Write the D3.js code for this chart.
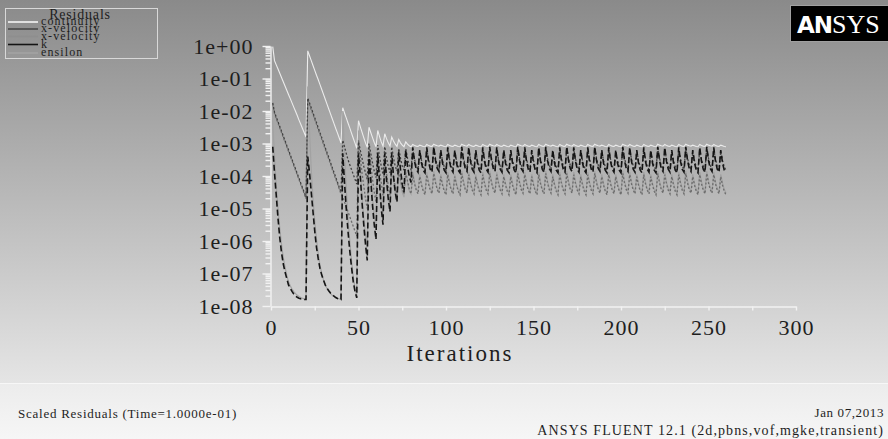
<!DOCTYPE html>
<html>
<head>
<meta charset="utf-8">
<script src="https://cdn.jsdelivr.net/npm/d3@7"></script>
<style>
  body { margin: 0; background: #fff; }
  svg { display: block; font-family: 'Liberation Serif', 'Times New Roman', serif; }
</style>
</head>
<body>
<div id="chart"></div>
<script>
// scaled residuals as log10 values, one per iteration (1..260)
let continuity = [
  -0.02,-0.45,-0.58,-0.71,-0.84,-0.97,-1.10,-1.23,-1.36,-1.49,-1.62,-1.75,-1.88,-2.01,-2.14,-2.28,-2.41,-2.54,-2.67,-2.80,
  -0.15,-0.30,-0.45,-0.60,-0.75,-0.90,-1.04,-1.19,-1.34,-1.49,-1.64,-1.79,-1.94,-2.09,-2.24,-2.39,-2.54,-2.68,-2.83,-2.98,
  -1.90,-2.06,-2.21,-2.37,-2.52,-2.68,-2.84,-2.99,-3.15,
  -2.30,-2.48,-2.65,-2.82,-2.98,-3.12,
  -2.50,-2.66,-2.82,-2.97,-3.10,
  -2.60,-2.78,-2.95,-3.08, -2.70,-2.85,-2.98,-3.08, -2.80,-2.92,-3.02,-3.09, -2.88,-2.98,-3.05,-3.10, -2.95,-3.02,-3.07,-3.10,
  -3.03,-3.06,-3.08,-3.09,-3.05,-3.07,-3.09,-3.10,-3.03,-3.06,-3.08,-3.09,-3.02,-3.05,-3.07,-3.08,-3.05,-3.07,-3.09,-3.10,
  -3.03,-3.06,-3.08,-3.09,-3.05,-3.07,-3.09,-3.10,-3.02,-3.05,-3.07,-3.08,-3.03,-3.06,-3.08,-3.09,-3.05,-3.07,-3.09,-3.10,
  -3.03,-3.06,-3.08,-3.09,-3.02,-3.05,-3.07,-3.08,-3.03,-3.06,-3.08,-3.09,-3.05,-3.07,-3.09,-3.10,-3.05,-3.07,-3.09,-3.10,
  -3.02,-3.05,-3.07,-3.08,-3.03,-3.06,-3.08,-3.09,-3.05,-3.07,-3.09,-3.10,-3.03,-3.06,-3.08,-3.09,-3.02,-3.05,-3.07,-3.08,
  -3.05,-3.07,-3.09,-3.10,-3.03,-3.06,-3.08,-3.09,-3.02,-3.05,-3.07,-3.08,-3.03,-3.06,-3.08,-3.09,-3.05,-3.07,-3.09,-3.10,
  -3.03,-3.06,-3.08,-3.09,-3.02,-3.05,-3.07,-3.08,-3.05,-3.07,-3.09,-3.10,-3.03,-3.06,-3.08,-3.09,-3.05,-3.07,-3.09,-3.10,
  -3.02,-3.05,-3.07,-3.08,-3.03,-3.06,-3.08,-3.09,-3.05,-3.07,-3.09,-3.10,-3.03,-3.06,-3.08,-3.09,-3.05,-3.07,-3.09,-3.10,
  -3.02,-3.05,-3.07,-3.08,-3.03,-3.06,-3.08,-3.09,-3.05,-3.07,-3.09,-3.10,-3.03,-3.06,-3.08,-3.09,-3.02,-3.05,-3.07,-3.08,
  -3.05,-3.07,-3.09,-3.10,-3.03,-3.06,-3.08,-3.09,-3.02,-3.05,-3.07,-3.08,-3.03,-3.06,-3.08,-3.09,-3.05,-3.07,-3.09,-3.10
]

let xVelocity = [
  -1.75,-2.04,-2.19,-2.33,-2.48,-2.62,-2.77,-2.91,-3.06,-3.20,-3.35,-3.49,-3.64,-3.78,-3.93,-4.07,-4.22,-4.36,-4.51,-4.65,
  -1.60,-1.75,-1.91,-2.06,-2.21,-2.36,-2.52,-2.67,-2.82,-2.97,-3.13,-3.28,-3.43,-3.58,-3.74,-3.89,-4.04,-4.19,-4.35,-4.50,
  -2.90,-3.10,-3.30,-3.50,-3.65,-3.80,-3.95,-4.10,-4.25,
  -2.95,-3.20,-3.45,-3.70,-3.90,-4.10,
  -3.00,-3.30,-3.60,-3.85,-4.05,
  -3.05,-3.40,-3.70,-3.95, -3.10,-3.45,-3.70,-3.90, -3.10,-3.45,-3.70,-3.85, -3.15,-3.45,-3.70,-3.82, -3.15,-3.45,-3.68,-3.80,
  -3.18,-3.48,-3.69,-3.80,-3.25,-3.52,-3.72,-3.82,-3.18,-3.48,-3.69,-3.80,-3.14,-3.45,-3.67,-3.79,-3.25,-3.52,-3.72,-3.82,
  -3.18,-3.48,-3.69,-3.80,-3.25,-3.52,-3.72,-3.82,-3.14,-3.45,-3.67,-3.79,-3.18,-3.48,-3.69,-3.80,-3.25,-3.52,-3.72,-3.82,
  -3.18,-3.48,-3.69,-3.80,-3.14,-3.45,-3.67,-3.79,-3.18,-3.48,-3.69,-3.80,-3.25,-3.52,-3.72,-3.82,-3.25,-3.52,-3.72,-3.82,
  -3.14,-3.45,-3.67,-3.79,-3.18,-3.48,-3.69,-3.80,-3.25,-3.52,-3.72,-3.82,-3.18,-3.48,-3.69,-3.80,-3.14,-3.45,-3.67,-3.79,
  -3.25,-3.52,-3.72,-3.82,-3.18,-3.48,-3.69,-3.80,-3.14,-3.45,-3.67,-3.79,-3.18,-3.48,-3.69,-3.80,-3.25,-3.52,-3.72,-3.82,
  -3.18,-3.48,-3.69,-3.80,-3.14,-3.45,-3.67,-3.79,-3.25,-3.52,-3.72,-3.82,-3.18,-3.48,-3.69,-3.80,-3.25,-3.52,-3.72,-3.82,
  -3.14,-3.45,-3.67,-3.79,-3.18,-3.48,-3.69,-3.80,-3.25,-3.52,-3.72,-3.82,-3.18,-3.48,-3.69,-3.80,-3.25,-3.52,-3.72,-3.82,
  -3.14,-3.45,-3.67,-3.79,-3.18,-3.48,-3.69,-3.80,-3.25,-3.52,-3.72,-3.82,-3.18,-3.48,-3.69,-3.80,-3.14,-3.45,-3.67,-3.79,
  -3.25,-3.52,-3.72,-3.82,-3.18,-3.48,-3.69,-3.80,-3.14,-3.45,-3.67,-3.79,-3.18,-3.48,-3.69,-3.80,-3.25,-3.52,-3.72,-3.82
]

let yVelocity = [
  -1.80,-2.08,-2.23,-2.37,-2.52,-2.66,-2.81,-2.95,-3.10,-3.24,-3.39,-3.53,-3.68,-3.82,-3.97,-4.11,-4.26,-4.40,-4.55,-4.70,
  -1.65,-1.80,-1.96,-2.11,-2.26,-2.41,-2.57,-2.72,-2.87,-3.02,-3.18,-3.33,-3.48,-3.63,-3.79,-3.94,-4.09,-4.24,-4.40,-4.55,
  -4.65,-4.80,-4.95,-5.10,-5.25,-5.40,-5.55,-5.70,-5.85,
  -2.90,-3.40,-3.90,-4.30,-4.70,-5.00,
  -3.10,-3.60,-4.10,-4.50,-4.80,
  -3.30,-3.80,-4.20,-4.60, -3.50,-3.90,-4.30,-4.60, -3.70,-4.00,-4.35,-4.60, -3.80,-4.10,-4.40,-4.55, -3.90,-4.15,-4.40,-4.55,
  -3.96,-4.24,-4.44,-4.55,-4.02,-4.28,-4.47,-4.58,-3.96,-4.24,-4.44,-4.55,-3.92,-4.21,-4.42,-4.53,-4.02,-4.28,-4.47,-4.58,
  -3.96,-4.24,-4.44,-4.55,-4.02,-4.28,-4.47,-4.58,-3.92,-4.21,-4.42,-4.53,-3.96,-4.24,-4.44,-4.55,-4.02,-4.28,-4.47,-4.58,
  -3.96,-4.24,-4.44,-4.55,-3.92,-4.21,-4.42,-4.53,-3.96,-4.24,-4.44,-4.55,-4.02,-4.28,-4.47,-4.58,-4.02,-4.28,-4.47,-4.58,
  -3.92,-4.21,-4.42,-4.53,-3.96,-4.24,-4.44,-4.55,-4.02,-4.28,-4.47,-4.58,-3.96,-4.24,-4.44,-4.55,-3.92,-4.21,-4.42,-4.53,
  -4.02,-4.28,-4.47,-4.58,-3.96,-4.24,-4.44,-4.55,-3.92,-4.21,-4.42,-4.53,-3.96,-4.24,-4.44,-4.55,-4.02,-4.28,-4.47,-4.58,
  -3.96,-4.24,-4.44,-4.55,-3.92,-4.21,-4.42,-4.53,-4.02,-4.28,-4.47,-4.58,-3.96,-4.24,-4.44,-4.55,-4.02,-4.28,-4.47,-4.58,
  -3.92,-4.21,-4.42,-4.53,-3.96,-4.24,-4.44,-4.55,-4.02,-4.28,-4.47,-4.58,-3.96,-4.24,-4.44,-4.55,-4.02,-4.28,-4.47,-4.58,
  -3.92,-4.21,-4.42,-4.53,-3.96,-4.24,-4.44,-4.55,-4.02,-4.28,-4.47,-4.58,-3.96,-4.24,-4.44,-4.55,-3.92,-4.21,-4.42,-4.53,
  -4.02,-4.28,-4.47,-4.58,-3.96,-4.24,-4.44,-4.55,-3.92,-4.21,-4.42,-4.53,-3.96,-4.24,-4.44,-4.55,-4.02,-4.28,-4.47,-4.58
]

let kResidual = [
  -3.10,-3.90,-4.60,-5.30,-5.90,-6.35,-6.70,-6.95,-7.15,-7.35,-7.45,-7.55,-7.63,-7.69,-7.73,-7.76,-7.78,-7.79,-7.80,-7.80,
  -3.40,-3.90,-4.50,-5.10,-5.70,-6.20,-6.55,-6.85,-7.05,-7.20,-7.35,-7.45,-7.53,-7.60,-7.65,-7.70,-7.74,-7.77,-7.79,-7.80,
  -3.30,-4.20,-5.00,-5.70,-6.30,-6.80,-7.25,-7.55,-7.75,
  -3.30,-4.00,-4.80,-5.50,-6.10,-6.60,
  -3.30,-4.10,-4.90,-5.50,-5.95,
  -3.30,-4.20,-5.00,-5.50, -3.30,-4.10,-4.70,-5.10, -3.30,-4.00,-4.50,-4.80, -3.25,-3.80,-4.25,-4.50, -3.20,-3.70,-4.00,-4.20,
  -3.12,-3.55,-3.79,-3.88,-3.20,-3.60,-3.82,-3.90,-3.12,-3.55,-3.79,-3.88,-3.10,-3.52,-3.77,-3.86,-3.20,-3.60,-3.82,-3.90,
  -3.12,-3.55,-3.79,-3.88,-3.20,-3.60,-3.82,-3.90,-3.10,-3.52,-3.77,-3.86,-3.12,-3.55,-3.79,-3.88,-3.20,-3.60,-3.82,-3.90,
  -3.12,-3.55,-3.79,-3.88,-3.10,-3.52,-3.77,-3.86,-3.12,-3.55,-3.79,-3.88,-3.20,-3.60,-3.82,-3.90,-3.20,-3.60,-3.82,-3.90,
  -3.10,-3.52,-3.77,-3.86,-3.12,-3.55,-3.79,-3.88,-3.20,-3.60,-3.82,-3.90,-3.12,-3.55,-3.79,-3.88,-3.10,-3.52,-3.77,-3.86,
  -3.20,-3.60,-3.82,-3.90,-3.12,-3.55,-3.79,-3.88,-3.10,-3.52,-3.77,-3.86,-3.12,-3.55,-3.79,-3.88,-3.20,-3.60,-3.82,-3.90,
  -3.12,-3.55,-3.79,-3.88,-3.10,-3.52,-3.77,-3.86,-3.20,-3.60,-3.82,-3.90,-3.12,-3.55,-3.79,-3.88,-3.20,-3.60,-3.82,-3.90,
  -3.10,-3.52,-3.77,-3.86,-3.12,-3.55,-3.79,-3.88,-3.20,-3.60,-3.82,-3.90,-3.12,-3.55,-3.79,-3.88,-3.20,-3.60,-3.82,-3.90,
  -3.10,-3.52,-3.77,-3.86,-3.12,-3.55,-3.79,-3.88,-3.20,-3.60,-3.82,-3.90,-3.12,-3.55,-3.79,-3.88,-3.10,-3.52,-3.77,-3.86,
  -3.20,-3.60,-3.82,-3.90,-3.12,-3.55,-3.79,-3.88,-3.10,-3.52,-3.77,-3.86,-3.12,-3.55,-3.79,-3.88,-3.20,-3.60,-3.82,-3.90
]

let epsilon = [
  -2.30,-3.40,-4.30,-5.00,-5.60,-6.10,-6.50,-6.80,-7.05,-7.25,-7.38,-7.48,-7.56,-7.62,-7.67,-7.71,-7.74,-7.76,-7.78,-7.79,
  -1.25,-2.60,-3.80,-4.70,-5.40,-5.95,-6.40,-6.75,-7.00,-7.20,-7.35,-7.46,-7.55,-7.62,-7.67,-7.71,-7.74,-7.76,-7.78,-7.79,
  -2.00,-3.30,-4.40,-5.30,-6.00,-6.60,-7.10,-7.45,-7.70,
  -2.60,-3.70,-4.60,-5.30,-5.80,-6.20,
  -3.00,-3.90,-4.70,-5.20,-5.60,
  -3.30,-4.10,-4.80,-5.20, -3.50,-4.20,-4.70,-5.00, -3.60,-4.20,-4.60,-4.80, -3.70,-4.20,-4.50,-4.65, -3.80,-4.20,-4.45,-4.55,
  -3.88,-4.18,-4.38,-4.49,-3.95,-4.22,-4.41,-4.52,-3.88,-4.18,-4.38,-4.49,-3.85,-4.15,-4.36,-4.47,-3.95,-4.22,-4.41,-4.52,
  -3.88,-4.18,-4.38,-4.49,-3.95,-4.22,-4.41,-4.52,-3.85,-4.15,-4.36,-4.47,-3.88,-4.18,-4.38,-4.49,-3.95,-4.22,-4.41,-4.52,
  -3.88,-4.18,-4.38,-4.49,-3.85,-4.15,-4.36,-4.47,-3.88,-4.18,-4.38,-4.49,-3.95,-4.22,-4.41,-4.52,-3.95,-4.22,-4.41,-4.52,
  -3.85,-4.15,-4.36,-4.47,-3.88,-4.18,-4.38,-4.49,-3.95,-4.22,-4.41,-4.52,-3.88,-4.18,-4.38,-4.49,-3.85,-4.15,-4.36,-4.47,
  -3.95,-4.22,-4.41,-4.52,-3.88,-4.18,-4.38,-4.49,-3.85,-4.15,-4.36,-4.47,-3.88,-4.18,-4.38,-4.49,-3.95,-4.22,-4.41,-4.52,
  -3.88,-4.18,-4.38,-4.49,-3.85,-4.15,-4.36,-4.47,-3.95,-4.22,-4.41,-4.52,-3.88,-4.18,-4.38,-4.49,-3.95,-4.22,-4.41,-4.52,
  -3.85,-4.15,-4.36,-4.47,-3.88,-4.18,-4.38,-4.49,-3.95,-4.22,-4.41,-4.52,-3.88,-4.18,-4.38,-4.49,-3.95,-4.22,-4.41,-4.52,
  -3.85,-4.15,-4.36,-4.47,-3.88,-4.18,-4.38,-4.49,-3.95,-4.22,-4.41,-4.52,-3.88,-4.18,-4.38,-4.49,-3.85,-4.15,-4.36,-4.47,
  -3.95,-4.22,-4.41,-4.52,-3.88,-4.18,-4.38,-4.49,-3.85,-4.15,-4.36,-4.47,-3.88,-4.18,-4.38,-4.49,-3.95,-4.22,-4.41,-4.52
]

let legendNames = ['continuity', 'x-velocity', 'x-velocity', 'k', 'ensilon']
let yTickValues = [1, 1e-1, 1e-2, 1e-3, 1e-4, 1e-5, 1e-6, 1e-7, 1e-8]
let yTickLabels = ['1e+00', '1e-01', '1e-02', '1e-03', '1e-04', '1e-05', '1e-06', '1e-07', '1e-08']
let xTickLabels = [0, 50, 100, 150, 200, 250, 300]

let width = 888
let height = 439
let margin = { top: 46, left: 271, right: 92, bottom: 133 }

let svg = d3
  .select('#chart')
  .append('svg')
  .attr('width', width)
  .attr('height', height)

// backgrounds
let defs = svg.append('defs')
let grad = defs.append('linearGradient').attr('id', 'bg').attr('x1', 0).attr('y1', 0).attr('x2', 0).attr('y2', 1)
grad.append('stop').attr('offset', '0%').attr('stop-color', '#8a8a8a')
grad.append('stop').attr('offset', '100%').attr('stop-color', '#e5e5e5')
let grad2 = defs.append('linearGradient').attr('id', 'foot').attr('x1', 0).attr('y1', 0).attr('x2', 0).attr('y2', 1)
grad2.append('stop').attr('offset', '0%').attr('stop-color', '#ececec')
grad2.append('stop').attr('offset', '100%').attr('stop-color', '#f6f6f6')

svg.append('rect').attr('width', width).attr('height', 384).attr('fill', 'url(#bg)')
svg.append('rect').attr('y', 384).attr('width', width).attr('height', height - 384).attr('fill', 'url(#foot)')
svg.append('line').attr('x1', 0).attr('x2', width).attr('y1', 383.5).attr('y2', 383.5).attr('stroke', '#f7f7f7')

let x = d3.scaleLinear().domain([0, 300]).range([margin.left, width - margin.right])
let y = d3.scaleLog().domain([1e-8, 1]).range([height - margin.bottom, margin.top])

// y axis
let yAxis = svg
  .append('g')
  .attr('transform', 'translate(' + (margin.left - 0.5) + ',0)')
  .call(
    d3.axisLeft(y)
      .tickValues(yTickValues)
      .tickFormat((d, i) => yTickLabels[i])
      .tickSize(8)
      .tickSizeOuter(0)
      .tickPadding(9)
  )

// minor log ticks
let minor = []
yTickValues.slice(1).forEach(v => {
  for (let m = 2; m < 10; m++) minor.push(v * m)
})
yAxis
  .selectAll('.minor')
  .data(minor)
  .enter()
  .append('line')
  .attr('class', 'minor')
  .attr('x1', -5)
  .attr('x2', 0)
  .attr('y1', d => y(d))
  .attr('y2', d => y(d))

// x axis
let xAxis = svg
  .append('g')
  .attr('transform', 'translate(0,' + (height - margin.bottom + 0.5) + ')')
  .call(
    d3.axisBottom(x)
      .tickValues(d3.range(0, 301, 25))
      .tickFormat(d => (xTickLabels.includes(d) ? d : ''))
      .tickSize(4)
      .tickSizeOuter(0)
      .tickPadding(9)
  )

svg.selectAll('.domain, .tick line, .minor').attr('stroke', '#f2f2f2').attr('stroke-width', 1.4)
svg
  .selectAll('.tick text')
  .attr('fill', '#1e1e1e')
  .style('font-size', '22px')
  .style('letter-spacing', '1px')
  .style('font-family', "'Liberation Serif', serif")

svg
  .append('text')
  .attr('x', 460)
  .attr('y', 361)
  .attr('text-anchor', 'middle')
  .attr('fill', '#1e1e1e')
  .style('font-size', '23px')
  .style('letter-spacing', '2px')
  .text('Iterations')

// residual lines, continuity first so the others sit on top
let series = [
  { name: 'continuity', values: continuity, color: '#ececec', dash: null, w: 1.1 },
  { name: 'ensilon', values: epsilon, color: '#a2a2a2', dash: null, w: 1.2 },
  { name: 'x-velocity', values: yVelocity, color: '#6c6c6c', dash: '2,2', w: 1.3 },
  { name: 'x-velocity', values: xVelocity, color: '#404040', dash: '2,2', w: 1.3 },
  { name: 'k', values: kResidual, color: '#141414', dash: '6,3', w: 1.6 }
]

let line = d3
  .line()
  .x((d, i) => x(i + 1))
  .y(d => y(Math.pow(10, d)))

svg
  .selectAll('.res')
  .data(series)
  .enter()
  .append('path')
  .attr('class', 'res')
  .attr('fill', 'none')
  .attr('stroke', d => d.color)
  .attr('stroke-width', d => d.w)
  .attr('stroke-dasharray', d => d.dash)
  .attr('d', d => line(d.values))

// legend
let legend = svg.append('g')
legend
  .append('rect')
  .attr('x', 5.5)
  .attr('y', 8.5)
  .attr('width', 152)
  .attr('height', 50)
  .attr('fill', 'none')
  .attr('stroke', '#d8d8d8')
legend
  .append('text')
  .attr('x', 80)
  .attr('y', 19)
  .attr('text-anchor', 'middle')
  .attr('fill', '#1e1e1e')
  .style('font-size', '14px')
  .style('letter-spacing', '0.8px')
  .text('Residuals')

let legendColors = ['#f5f5f5', '#4a4a4a', '#8e8e8e', '#141414', '#a2a2a2']
let legendRows = [25, 32, 39.5, 47.5, 56]
legend
  .selectAll('.entry')
  .data(legendNames)
  .enter()
  .append('g')
  .attr('class', 'entry')
  .each(function(d, i) {
    let g = d3.select(this)
    g.append('line')
      .attr('x1', 8)
      .attr('x2', 38)
      .attr('y1', legendRows[i] - 3)
      .attr('y2', legendRows[i] - 3)
      .attr('stroke', legendColors[i])
      .attr('stroke-width', 1.6)
    g.append('text')
      .attr('x', 41)
      .attr('y', legendRows[i])
      .attr('fill', '#1e1e1e')
      .style('font-size', '12px')
      .style('letter-spacing', '1.1px')
      .text(d)
  })

// logo
let logo = svg.append('g')
logo
  .append('rect')
  .attr('x', 790.5)
  .attr('y', 5.5)
  .attr('width', 100)
  .attr('height', 36)
  .attr('fill', '#000')
  .attr('stroke', '#a0a0a0')
let logoText = logo.append('text').attr('x', 797).attr('y', 33).attr('fill', '#fff')
logoText
  .append('tspan')
  .style('font-family', "'DejaVu Sans', sans-serif")
  .style('font-weight', 'bold')
  .style('font-size', '23px')
  .style('letter-spacing', '-1px')
  .text('AN')
logoText
  .append('tspan')
  .style('font-family', "'Liberation Serif', serif")
  .style('font-size', '26px')
  .text('SYS')

// footer
svg
  .append('text')
  .attr('x', 18)
  .attr('y', 418)
  .attr('fill', '#1e1e1e')
  .style('font-size', '13px')
  .style('letter-spacing', '0.75px')
  .text('Scaled Residuals (Time=1.0000e-01)')
svg
  .append('text')
  .attr('x', 884)
  .attr('y', 417)
  .attr('text-anchor', 'end')
  .attr('fill', '#1e1e1e')
  .style('font-size', '13px')
  .style('letter-spacing', '0.6px')
  .text('Jan 07,2013')
svg
  .append('text')
  .attr('x', 884)
  .attr('y', 435)
  .attr('text-anchor', 'end')
  .attr('fill', '#1e1e1e')
  .style('font-size', '14px')
  .style('letter-spacing', '1.1px')
  .text('ANSYS FLUENT 12.1 (2d,pbns,vof,mgke,transient)')
</script>
</body>
</html>
